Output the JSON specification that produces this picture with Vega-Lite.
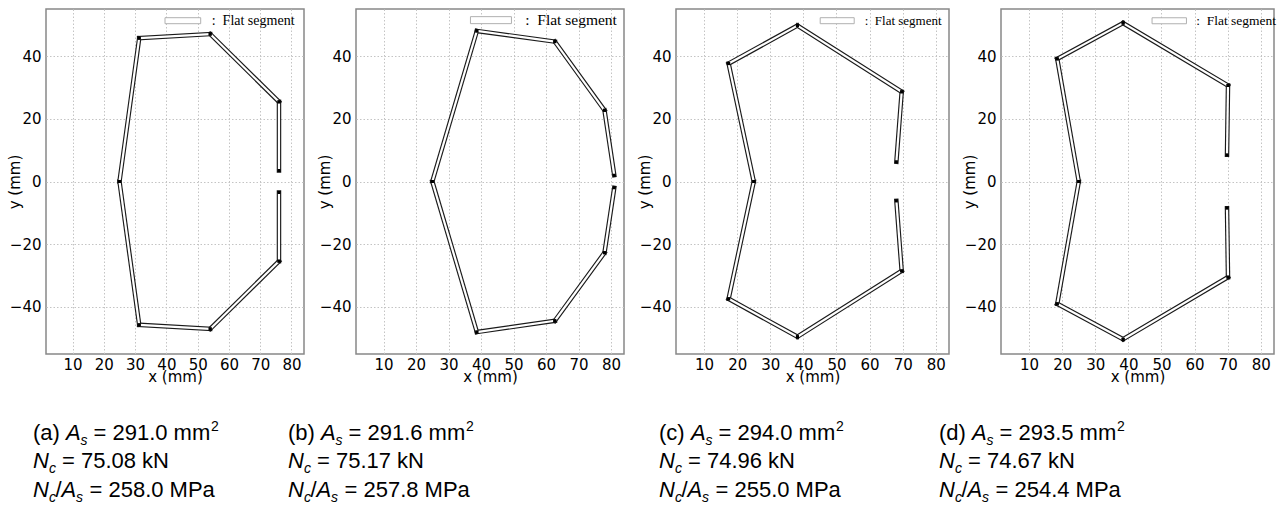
{
  "$schema": "https://vega.github.io/schema/vega-lite/v6.json",
  "padding": {"left": 6, "top": 8, "right": 5, "bottom": 5},
  "background": "white",
  "datasets": {
    "segA": [
      {"x": 76, "y": 3.5, "x2": 76, "y2": 25.4},
      {"x": 76, "y": 25.4, "x2": 54, "y2": 47},
      {"x": 54, "y": 47, "x2": 31.3, "y2": 45.7},
      {"x": 31.3, "y": 45.7, "x2": 25, "y2": 0},
      {"x": 25, "y": 0, "x2": 31.3, "y2": -45.7},
      {"x": 31.3, "y": -45.7, "x2": 54, "y2": -47},
      {"x": 54, "y": -47, "x2": 76, "y2": -25.4},
      {"x": 76, "y": -25.4, "x2": 76, "y2": -3.5}
    ],
    "segB": [
      {"x": 81, "y": 2, "x2": 78, "y2": 22.7},
      {"x": 78, "y": 22.7, "x2": 62.7, "y2": 44.6},
      {"x": 62.7, "y": 44.6, "x2": 38.7, "y2": 48},
      {"x": 38.7, "y": 48, "x2": 25, "y2": 0},
      {"x": 25, "y": 0, "x2": 38.7, "y2": -48},
      {"x": 38.7, "y": -48, "x2": 62.7, "y2": -44.4},
      {"x": 62.7, "y": -44.4, "x2": 78, "y2": -22.7},
      {"x": 78, "y": -22.7, "x2": 81, "y2": -2}
    ],
    "segC": [
      {"x": 68.1, "y": 6.3, "x2": 69.7, "y2": 28.6},
      {"x": 69.7, "y": 28.6, "x2": 38.2, "y2": 49.7},
      {"x": 38.2, "y": 49.7, "x2": 17.4, "y2": 37.6},
      {"x": 17.4, "y": 37.6, "x2": 25, "y2": 0},
      {"x": 25, "y": 0, "x2": 17.4, "y2": -37.4},
      {"x": 17.4, "y": -37.4, "x2": 38.2, "y2": -49.5},
      {"x": 38.2, "y": -49.5, "x2": 69.7, "y2": -28.5},
      {"x": 69.7, "y": -28.5, "x2": 68.1, "y2": -6.2}
    ],
    "segD": [
      {"x": 69.8, "y": 8.5, "x2": 70.1, "y2": 30.6},
      {"x": 70.1, "y": 30.6, "x2": 38.4, "y2": 50.5},
      {"x": 38.4, "y": 50.5, "x2": 18.5, "y2": 39.1},
      {"x": 18.5, "y": 39.1, "x2": 25, "y2": 0},
      {"x": 25, "y": 0, "x2": 18.5, "y2": -39},
      {"x": 18.5, "y": -39, "x2": 38.4, "y2": -50.3},
      {"x": 38.4, "y": -50.3, "x2": 70.1, "y2": -30.5},
      {"x": 70.1, "y": -30.5, "x2": 69.8, "y2": -8.5}
    ],
    "caps": [
      {"p": "a", "tag": "(a)", "l1": "= 291.0 mm", "l2": "= 75.08 kN", "l3": "= 258.0 MPa"},
      {"p": "b", "tag": "(b)", "l1": "= 291.6 mm", "l2": "= 75.17 kN", "l3": "= 257.8 MPa"},
      {"p": "c", "tag": "(c)", "l1": "= 294.0 mm", "l2": "= 74.96 kN", "l3": "= 255.0 MPa"},
      {"p": "d", "tag": "(d)", "l1": "= 293.5 mm", "l2": "= 74.67 kN", "l3": "= 254.4 MPa"}
    ]
  },
  "hconcat": [
    {
      "width": 258, "height": 345,
      "layer": [
        {"data": {"name": "segA"},
         "mark": {"type": "rule", "color": "#1a1a1a", "strokeWidth": 4.5, "strokeCap": "square"},
         "encoding": {
           "x": {"field": "x", "type": "quantitative", "scale": {"domain": [1.5, 84], "nice": false, "zero": false}, "axis": {"title": "x (mm)", "tickCount": 9, "titleY": 27, "titleBaseline": "alphabetic", "labelPadding": 3, "labelOverlap": false}},
           "y": {"field": "y", "type": "quantitative", "scale": {"domain": [-55, 55], "nice": false, "zero": false}, "axis": {"title": "y (mm)", "values": [-40, -20, 0, 20, 40], "tickCount": 9, "titleX": -24, "labelPadding": 5, "labelOverlap": false}},
           "x2": {"field": "x2"}, "y2": {"field": "y2"}}},
        {"data": {"name": "segA"},
         "mark": {"type": "rule", "color": "#ffffff", "strokeWidth": 2.2, "strokeCap": "butt"},
         "encoding": {
           "x": {"field": "x", "type": "quantitative"}, "y": {"field": "y", "type": "quantitative"},
           "x2": {"field": "x2"}, "y2": {"field": "y2"},
           "opacity": {"datum": "Flat segment", "type": "nominal", "scale": {"range": [1]},
             "legend": {"title": null, "orient": "none", "legendX": 129.85, "legendY": 4.7, "padding": 0, "symbolType": "M-4.46,-0.75L4.46,-0.75L4.46,0.75L-4.46,0.75Z", "symbolSize": 64, "symbolFillColor": "#ffffff", "symbolStrokeColor": "#b0b0b0", "symbolStrokeWidth": 1, "symbolOpacity": 1, "labelFont": "Liberation Serif", "labelFontSize": 14, "labelColor": "#000000", "labelOffset": 21.85, "labelExpr": "':\u00a0\u00a0' + datum.label"}}}},
        {"data": {"name": "segA"}, "mark": {"type": "square", "size": 9, "color": "#000000", "opacity": 1},
         "encoding": {"x": {"field": "x", "type": "quantitative"}, "y": {"field": "y", "type": "quantitative"}}},
        {"data": {"name": "segA"}, "mark": {"type": "square", "size": 9, "color": "#000000", "opacity": 1},
         "encoding": {"x": {"field": "x2", "type": "quantitative"}, "y": {"field": "y2", "type": "quantitative"}}},
        {"data": {"name": "caps"}, "transform": [{"filter": "datum.p == 'a'"}],
         "encoding": {"x": {"datum": -2.66}, "y": {"datum": -82.4}},
         "layer": [
           {"mark": {"type": "text"}, "encoding": {"text": {"field": "tag"}}},
           {"mark": {"type": "text", "text": "A", "fontStyle": "italic", "dx": 33}},
           {"mark": {"type": "text", "text": "s", "fontStyle": "italic", "fontSize": 14, "dx": 47.5, "dy": 5}},
           {"mark": {"type": "text", "dx": 60.5}, "encoding": {"text": {"field": "l1"}}},
           {"mark": {"type": "text", "text": "2", "fontSize": 14, "dx": 178, "dy": -9}},
           {"mark": {"type": "text", "text": "N", "fontStyle": "italic", "dy": 28.5}},
           {"mark": {"type": "text", "text": "c", "fontStyle": "italic", "fontSize": 14, "dx": 16, "dy": 33.5}},
           {"mark": {"type": "text", "dx": 29, "dy": 28.5}, "encoding": {"text": {"field": "l2"}}},
           {"mark": {"type": "text", "text": "N", "fontStyle": "italic", "dy": 57}},
           {"mark": {"type": "text", "text": "c", "fontStyle": "italic", "fontSize": 14, "dx": 16, "dy": 62}},
           {"mark": {"type": "text", "text": "/", "dx": 22.5, "dy": 57}},
           {"mark": {"type": "text", "text": "A", "fontStyle": "italic", "dx": 28.5, "dy": 57}},
           {"mark": {"type": "text", "text": "s", "fontStyle": "italic", "fontSize": 14, "dx": 43, "dy": 62}},
           {"mark": {"type": "text", "dx": 56.5, "dy": 57}, "encoding": {"text": {"field": "l3"}}}
         ]}
      ]
    },
    {
      "width": 268, "height": 345,
      "layer": [
        {"data": {"name": "segB"},
         "mark": {"type": "rule", "color": "#1a1a1a", "strokeWidth": 4.5, "strokeCap": "square"},
         "encoding": {
           "x": {"field": "x", "type": "quantitative", "scale": {"domain": [1.5, 84], "nice": false, "zero": false}, "axis": {"title": "x (mm)", "tickCount": 9, "titleY": 27, "titleBaseline": "alphabetic", "labelPadding": 3, "labelOverlap": false}},
           "y": {"field": "y", "type": "quantitative", "scale": {"domain": [-55, 55], "nice": false, "zero": false}, "axis": {"title": "y (mm)", "values": [-40, -20, 0, 20, 40], "tickCount": 9, "titleX": -24, "labelPadding": 5, "labelOverlap": false}},
           "x2": {"field": "x2"}, "y2": {"field": "y2"}}},
        {"data": {"name": "segB"},
         "mark": {"type": "rule", "color": "#ffffff", "strokeWidth": 2.2, "strokeCap": "butt"},
         "encoding": {
           "x": {"field": "x", "type": "quantitative"}, "y": {"field": "y", "type": "quantitative"},
           "x2": {"field": "x2"}, "y2": {"field": "y2"},
           "opacity": {"datum": "Flat segment", "type": "nominal", "scale": {"range": [1]},
             "legend": {"title": null, "orient": "none", "legendX": 127.2, "legendY": 3.4, "padding": 0, "symbolType": "M-5.125,-0.875L5.125,-0.875L5.125,0.875L-5.125,0.875Z", "symbolSize": 64, "symbolFillColor": "#ffffff", "symbolStrokeColor": "#b0b0b0", "symbolStrokeWidth": 1, "symbolOpacity": 1, "labelFont": "Liberation Serif", "labelFontSize": 15.5, "labelColor": "#000000", "labelOffset": 26.5, "labelExpr": "':\u00a0\u00a0' + datum.label"}}}},
        {"data": {"name": "segB"}, "mark": {"type": "square", "size": 9, "color": "#000000", "opacity": 1},
         "encoding": {"x": {"field": "x", "type": "quantitative"}, "y": {"field": "y", "type": "quantitative"}}},
        {"data": {"name": "segB"}, "mark": {"type": "square", "size": 9, "color": "#000000", "opacity": 1},
         "encoding": {"x": {"field": "x2", "type": "quantitative"}, "y": {"field": "y2", "type": "quantitative"}}},
        {"data": {"name": "caps"}, "transform": [{"filter": "datum.p == 'b'"}],
         "encoding": {"x": {"datum": -19.44}, "y": {"datum": -82.4}},
         "layer": [
           {"mark": {"type": "text"}, "encoding": {"text": {"field": "tag"}}},
           {"mark": {"type": "text", "text": "A", "fontStyle": "italic", "dx": 33}},
           {"mark": {"type": "text", "text": "s", "fontStyle": "italic", "fontSize": 14, "dx": 47.5, "dy": 5}},
           {"mark": {"type": "text", "dx": 60.5}, "encoding": {"text": {"field": "l1"}}},
           {"mark": {"type": "text", "text": "2", "fontSize": 14, "dx": 178, "dy": -9}},
           {"mark": {"type": "text", "text": "N", "fontStyle": "italic", "dy": 28.5}},
           {"mark": {"type": "text", "text": "c", "fontStyle": "italic", "fontSize": 14, "dx": 16, "dy": 33.5}},
           {"mark": {"type": "text", "dx": 29, "dy": 28.5}, "encoding": {"text": {"field": "l2"}}},
           {"mark": {"type": "text", "text": "N", "fontStyle": "italic", "dy": 57}},
           {"mark": {"type": "text", "text": "c", "fontStyle": "italic", "fontSize": 14, "dx": 16, "dy": 62}},
           {"mark": {"type": "text", "text": "/", "dx": 22.5, "dy": 57}},
           {"mark": {"type": "text", "text": "A", "fontStyle": "italic", "dx": 28.5, "dy": 57}},
           {"mark": {"type": "text", "text": "s", "fontStyle": "italic", "fontSize": 14, "dx": 43, "dy": 62}},
           {"mark": {"type": "text", "dx": 56.5, "dy": 57}, "encoding": {"text": {"field": "l3"}}}
         ]}
      ]
    },
    {
      "width": 273, "height": 345,
      "layer": [
        {"data": {"name": "segC"},
         "mark": {"type": "rule", "color": "#1a1a1a", "strokeWidth": 4.5, "strokeCap": "square"},
         "encoding": {
           "x": {"field": "x", "type": "quantitative", "scale": {"domain": [1.5, 84], "nice": false, "zero": false}, "axis": {"title": "x (mm)", "tickCount": 9, "titleY": 27, "titleBaseline": "alphabetic", "labelPadding": 3, "labelOverlap": false}},
           "y": {"field": "y", "type": "quantitative", "scale": {"domain": [-55, 55], "nice": false, "zero": false}, "axis": {"title": "y (mm)", "values": [-40, -20, 0, 20, 40], "tickCount": 9, "titleX": -24, "labelPadding": 5, "labelOverlap": false}},
           "x2": {"field": "x2"}, "y2": {"field": "y2"}}},
        {"data": {"name": "segC"},
         "mark": {"type": "rule", "color": "#ffffff", "strokeWidth": 2.2, "strokeCap": "butt"},
         "encoding": {
           "x": {"field": "x", "type": "quantitative"}, "y": {"field": "y", "type": "quantitative"},
           "x2": {"field": "x2"}, "y2": {"field": "y2"},
           "opacity": {"datum": "Flat segment", "type": "nominal", "scale": {"range": [1]},
             "legend": {"title": null, "orient": "none", "legendX": 154.7, "legendY": 5.2, "padding": 0, "symbolType": "M-4.25,-0.75L4.25,-0.75L4.25,0.75L-4.25,0.75Z", "symbolSize": 64, "symbolFillColor": "#ffffff", "symbolStrokeColor": "#b0b0b0", "symbolStrokeWidth": 1, "symbolOpacity": 1, "labelFont": "Liberation Serif", "labelFontSize": 13, "labelColor": "#000000", "labelOffset": 21, "labelExpr": "':\u00a0\u00a0' + datum.label"}}}},
        {"data": {"name": "segC"}, "mark": {"type": "square", "size": 9, "color": "#000000", "opacity": 1},
         "encoding": {"x": {"field": "x", "type": "quantitative"}, "y": {"field": "y", "type": "quantitative"}}},
        {"data": {"name": "segC"}, "mark": {"type": "square", "size": 9, "color": "#000000", "opacity": 1},
         "encoding": {"x": {"field": "x2", "type": "quantitative"}, "y": {"field": "y2", "type": "quantitative"}}},
        {"data": {"name": "caps"}, "transform": [{"filter": "datum.p == 'c'"}],
         "encoding": {"x": {"datum": -3.64}, "y": {"datum": -82.4}},
         "layer": [
           {"mark": {"type": "text"}, "encoding": {"text": {"field": "tag"}}},
           {"mark": {"type": "text", "text": "A", "fontStyle": "italic", "dx": 32}},
           {"mark": {"type": "text", "text": "s", "fontStyle": "italic", "fontSize": 14, "dx": 46.5, "dy": 5}},
           {"mark": {"type": "text", "dx": 59.5}, "encoding": {"text": {"field": "l1"}}},
           {"mark": {"type": "text", "text": "2", "fontSize": 14, "dx": 177, "dy": -9}},
           {"mark": {"type": "text", "text": "N", "fontStyle": "italic", "dy": 28.5}},
           {"mark": {"type": "text", "text": "c", "fontStyle": "italic", "fontSize": 14, "dx": 16, "dy": 33.5}},
           {"mark": {"type": "text", "dx": 29, "dy": 28.5}, "encoding": {"text": {"field": "l2"}}},
           {"mark": {"type": "text", "text": "N", "fontStyle": "italic", "dy": 57}},
           {"mark": {"type": "text", "text": "c", "fontStyle": "italic", "fontSize": 14, "dx": 16, "dy": 62}},
           {"mark": {"type": "text", "text": "/", "dx": 22.5, "dy": 57}},
           {"mark": {"type": "text", "text": "A", "fontStyle": "italic", "dx": 28.5, "dy": 57}},
           {"mark": {"type": "text", "text": "s", "fontStyle": "italic", "fontSize": 14, "dx": 43, "dy": 62}},
           {"mark": {"type": "text", "dx": 56.5, "dy": 57}, "encoding": {"text": {"field": "l3"}}}
         ]}
      ]
    },
    {
      "width": 273, "height": 345,
      "layer": [
        {"data": {"name": "segD"},
         "mark": {"type": "rule", "color": "#1a1a1a", "strokeWidth": 4.5, "strokeCap": "square"},
         "encoding": {
           "x": {"field": "x", "type": "quantitative", "scale": {"domain": [1.5, 84], "nice": false, "zero": false}, "axis": {"title": "x (mm)", "tickCount": 9, "titleY": 27, "titleBaseline": "alphabetic", "labelPadding": 3, "labelOverlap": false}},
           "y": {"field": "y", "type": "quantitative", "scale": {"domain": [-55, 55], "nice": false, "zero": false}, "axis": {"title": "y (mm)", "values": [-40, -20, 0, 20, 40], "tickCount": 9, "titleX": -24, "labelPadding": 5, "labelOverlap": false}},
           "x2": {"field": "x2"}, "y2": {"field": "y2"}}},
        {"data": {"name": "segD"},
         "mark": {"type": "rule", "color": "#ffffff", "strokeWidth": 2.2, "strokeCap": "butt"},
         "encoding": {
           "x": {"field": "x", "type": "quantitative"}, "y": {"field": "y", "type": "quantitative"},
           "x2": {"field": "x2"}, "y2": {"field": "y2"},
           "opacity": {"datum": "Flat segment", "type": "nominal", "scale": {"range": [1]},
             "legend": {"title": null, "orient": "none", "legendX": 161.5, "legendY": 5, "padding": 0, "symbolType": "M-4.3,-0.75L4.3,-0.75L4.3,0.75L-4.3,0.75Z", "symbolSize": 64, "symbolFillColor": "#ffffff", "symbolStrokeColor": "#b0b0b0", "symbolStrokeWidth": 1, "symbolOpacity": 1, "labelFont": "Liberation Serif", "labelFontSize": 13.5, "labelColor": "#000000", "labelOffset": 20.2, "labelExpr": "':\u00a0\u00a0' + datum.label"}}}},
        {"data": {"name": "segD"}, "mark": {"type": "square", "size": 9, "color": "#000000", "opacity": 1},
         "encoding": {"x": {"field": "x", "type": "quantitative"}, "y": {"field": "y", "type": "quantitative"}}},
        {"data": {"name": "segD"}, "mark": {"type": "square", "size": 9, "color": "#000000", "opacity": 1},
         "encoding": {"x": {"field": "x2", "type": "quantitative"}, "y": {"field": "y2", "type": "quantitative"}}},
        {"data": {"name": "caps"}, "transform": [{"filter": "datum.p == 'd'"}],
         "encoding": {"x": {"datum": -17.24}, "y": {"datum": -82.4}},
         "layer": [
           {"mark": {"type": "text"}, "encoding": {"text": {"field": "tag"}}},
           {"mark": {"type": "text", "text": "A", "fontStyle": "italic", "dx": 33}},
           {"mark": {"type": "text", "text": "s", "fontStyle": "italic", "fontSize": 14, "dx": 47.5, "dy": 5}},
           {"mark": {"type": "text", "dx": 60.5}, "encoding": {"text": {"field": "l1"}}},
           {"mark": {"type": "text", "text": "2", "fontSize": 14, "dx": 178, "dy": -9}},
           {"mark": {"type": "text", "text": "N", "fontStyle": "italic", "dy": 28.5}},
           {"mark": {"type": "text", "text": "c", "fontStyle": "italic", "fontSize": 14, "dx": 16, "dy": 33.5}},
           {"mark": {"type": "text", "dx": 29, "dy": 28.5}, "encoding": {"text": {"field": "l2"}}},
           {"mark": {"type": "text", "text": "N", "fontStyle": "italic", "dy": 57}},
           {"mark": {"type": "text", "text": "c", "fontStyle": "italic", "fontSize": 14, "dx": 16, "dy": 62}},
           {"mark": {"type": "text", "text": "/", "dx": 22.5, "dy": 57}},
           {"mark": {"type": "text", "text": "A", "fontStyle": "italic", "dx": 28.5, "dy": 57}},
           {"mark": {"type": "text", "text": "s", "fontStyle": "italic", "fontSize": 14, "dx": 43, "dy": 62}},
           {"mark": {"type": "text", "dx": 56.5, "dy": 57}, "encoding": {"text": {"field": "l3"}}}
         ]}
      ]
    }
  ],
  "spacing": 52,
  "bounds": "flush",
  "resolve": {"scale": {"opacity": "independent"}, "legend": {"opacity": "independent"}},
  "config": {
    "view": {"stroke": "#888888", "strokeWidth": 1.5},
    "axis": {"labelFont": "DejaVu Sans", "labelFontSize": 15, "labelColor": "#000000", "labelOverlap": false, "labelBound": false, "labelFlush": false, "titleFont": "DejaVu Sans", "titleFontSize": 15, "titleFontWeight": "normal", "titleColor": "#000000", "domain": false, "ticks": false, "tickSize": 0, "grid": true, "gridColor": "#c4c4c4", "gridDash": [1.5, 2], "gridWidth": 1},
    "text": {"font": "Liberation Sans", "fontSize": 22, "baseline": "alphabetic", "align": "left", "color": "#000000"}
  }
}
